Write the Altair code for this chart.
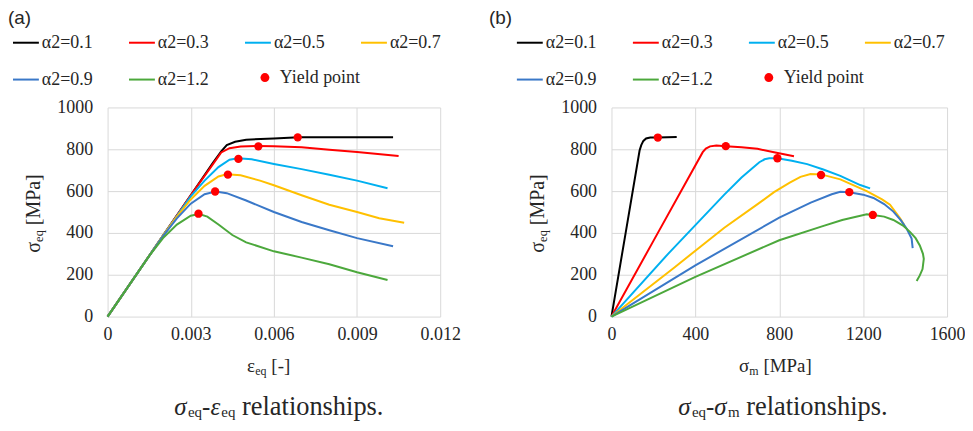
import altair as alt
import pandas as pd

SERIES = ["α2=0.1", "α2=0.3", "α2=0.5", "α2=0.7", "α2=0.9", "α2=1.2"]
COLORS = ["#000000", "#FF0000", "#00B0F0", "#FFC000", "#3A78C8", "#4CA83C"]
YIELD_LABEL = "Yield point"

# ---------------- panel (a): sigma_eq vs eps_eq ----------------
a_x_01 = [0, 0.002, 0.003, 0.0038, 0.0041, 0.0043, 0.0046, 0.005, 0.006, 0.0069, 0.008, 0.0103]
a_y_01 = [0, 387, 580, 735, 790, 820, 836, 846, 852, 858, 858, 858]
a_x_03 = [0, 0.002, 0.003, 0.0037, 0.0041, 0.0044, 0.0048, 0.0054, 0.006, 0.007, 0.008, 0.009, 0.0105]
a_y_03 = [0, 387, 580, 710, 785, 805, 813, 816, 815, 810, 798, 787, 768]
a_x_05 = [0, 0.002, 0.003, 0.0035, 0.004, 0.0044, 0.0047, 0.0052, 0.006, 0.007, 0.008, 0.009, 0.0101]
a_y_05 = [0, 387, 575, 650, 715, 750, 757, 752, 730, 705, 678, 650, 614]
a_x_07 = [0, 0.002, 0.0025, 0.003, 0.0035, 0.004, 0.0043, 0.0048, 0.0055, 0.006, 0.007, 0.008, 0.009, 0.0098, 0.0107]
a_y_07 = [0, 387, 478, 560, 625, 670, 680, 676, 650, 628, 580, 535, 500, 470, 449]
a_x_09 = [0, 0.0015, 0.002, 0.0025, 0.003, 0.0035, 0.0039, 0.0043, 0.005, 0.006, 0.007, 0.008, 0.009, 0.0103]
a_y_09 = [0, 290, 385, 470, 540, 585, 598, 590, 555, 500, 452, 413, 375, 336]
a_x_12 = [0, 0.0015, 0.002, 0.0025, 0.003, 0.0033, 0.0036, 0.004, 0.0045, 0.005, 0.006, 0.007, 0.008, 0.009, 0.0101]
a_y_12 = [0, 290, 375, 440, 482, 490, 478, 440, 390, 355, 312, 282, 250, 212, 175]
a_yield_x = [0.00686, 0.00544, 0.00472, 0.00434, 0.00388, 0.00328]
a_yield_y = [857, 814, 754, 679, 598, 492]

# ---------------- panel (b): sigma_eq vs sigma_m ----------------
b_x_01 = [0, 67, 134, 142, 152, 165, 185, 221, 311]
b_y_01 = [0, 397, 794, 820, 840, 852, 856, 856, 859]
b_x_03 = [0, 200, 435, 450, 470, 500, 545, 620, 696, 775, 870]
b_y_03 = [0, 362, 786, 803, 814, 818, 815, 810, 802, 786, 767]
b_x_05 = [0, 270, 538, 620, 670, 705, 730, 752, 791, 860, 933, 1010, 1091, 1186, 1233]
b_y_05 = [0, 300, 583, 665, 708, 738, 752, 757, 757, 745, 729, 703, 673, 629, 613]
b_x_07 = [0, 300, 538, 700, 775, 850, 901, 949, 999, 1091, 1217, 1290, 1328, 1376, 1396]
b_y_07 = [0, 235, 425, 540, 595, 640, 668, 682, 680, 656, 600, 560, 535, 470, 438]
b_x_09 = [0, 400, 800, 950, 1050, 1091, 1134, 1200, 1249, 1300, 1344, 1380, 1407, 1431, 1436]
b_y_09 = [0, 245, 473, 545, 585, 597, 595, 583, 567, 538, 502, 460, 421, 373, 327]
b_x_12 = [0, 400, 800, 1000, 1100, 1217, 1246, 1300, 1344, 1390, 1423, 1450, 1470, 1485, 1489, 1483, 1470, 1455]
b_y_12 = [0, 190, 365, 430, 462, 489, 486, 478, 462, 435, 405, 375, 340, 300, 276, 227, 197, 170]
b_yield_x = [221, 545, 791, 999, 1134, 1246]
b_yield_y = [856, 815, 757, 677, 595, 486]

Y_TICKS = [0, 200, 400, 600, 800, 1000]
A_X_TICKS = [0, 0.003, 0.006, 0.009, 0.012]
B_X_TICKS = [0, 400, 800, 1200, 1600]

SERIF = "'Liberation Serif', 'Times New Roman', Times, 'DejaVu Serif', serif"
SANS = "'Liberation Sans', Arial, sans-serif"
TXT = "#262626"
EM = {"σ": 0.55, "ε": 0.44, "e": 0.444, "q": 0.5, "m": 0.778, " ": 0.25, "[": 0.333,
      "]": 0.333, "M": 0.889, "P": 0.556, "a": 0.444, "-": 0.333}


def text_width(s, size):
    return sum(EM.get(c, 0.5) for c in s) * size


def long_df(xs_list, ys_list):
    rows = []
    for s, xs, ys in zip(SERIES, xs_list, ys_list):
        for i, (x, y) in enumerate(zip(xs, ys)):
            rows.append({"series": s, "x": x, "y": y, "i": i})
    return pd.DataFrame(rows)


def yield_df(xs, ys):
    return pd.DataFrame({"x": xs, "y": ys, "kind": [YIELD_LABEL] * len(xs)})


def txt(s, x, y, size, angle=0, italic=False, font=SERIF):
    kw = dict(text=s, font=font, fontSize=size, align="left", baseline="alphabetic", color=TXT)
    if angle:
        kw["angle"] = angle
    if italic:
        kw["fontStyle"] = "italic"
    return alt.Chart(alt.Data(values=[{}])).mark_text(**kw).encode(
        x=alt.value(x), y=alt.value(y))


def run(pieces, x0, y0, vertical=False, sub_shift=3):
    """pieces: (text, size, is_sub, italic)"""
    out = []
    pos = x0 if not vertical else y0
    for s, size, sub, ital in pieces:
        shift = sub_shift if sub else 0
        lead = len(s) - len(s.lstrip(" "))
        adv = lead * EM[" "] * size
        s = s.lstrip(" ")
        if vertical:
            pos -= adv
            out.append(txt(s, x0 + shift, pos, size, angle=270, italic=ital))
            pos -= text_width(s, size)
        else:
            pos += adv
            out.append(txt(s, pos, y0 + shift, size, italic=ital))
            pos += text_width(s, size)
    return out


def panel(lines, pts, xdom, xticks, xlabel_expr, width, letter, letter_x,
          xtitle, xtitle_x, caption):
    H = 210
    xscale = alt.Scale(domain=xdom, nice=False, zero=False)
    yscale = alt.Scale(domain=[0, 1000], nice=False)
    xaxis = alt.Axis(values=xticks, labelExpr=xlabel_expr, title=None, grid=True,
                     domain=False, ticks=False, labelPadding=9, labelFlush=False,
                     labelFont=SERIF, labelFontSize=18, labelColor=TXT)
    yaxis = alt.Axis(values=Y_TICKS, format="d", title=None, grid=True,
                     domain=False, ticks=False, labelPadding=15,
                     labelFont=SERIF, labelFontSize=18, labelColor=TXT)
    line_layer = alt.Chart(lines).mark_line(strokeWidth=2).encode(
        x=alt.X("x:Q", scale=xscale, axis=xaxis),
        y=alt.Y("y:Q", scale=yscale, axis=yaxis),
        color=alt.Color("series:N", scale=alt.Scale(domain=SERIES, range=COLORS),
                        sort=SERIES,
                        legend=alt.Legend(orient="none", legendX=-96, legendY=-79,
                                          columns=4, direction="horizontal",
                                          title=None, symbolType="stroke",
                                          symbolSize=676, symbolStrokeWidth=2,
                                          labelFont=SERIF, labelFontSize=18,
                                          labelColor=TXT, labelOffset=2,
                                          columnPadding=31.5, rowPadding=14)),
        order="i:Q",
    )
    pt_layer = alt.Chart(pts).mark_circle(size=70, opacity=1).encode(
        x="x:Q", y="y:Q",
        fill=alt.Fill("kind:N", scale=alt.Scale(domain=[YIELD_LABEL], range=["#FF0000"]),
                      legend=alt.Legend(orient="none", legendX=149, legendY=-39,
                                        title=None, symbolType="circle", symbolSize=80,
                                        symbolStrokeWidth=0, labelFont=SERIF,
                                        labelFontSize=18, labelColor=TXT,
                                        labelOffset=6)),
    )
    texts = [txt(letter, letter_x, -84, 19, font=SANS)]
    # y title: sigma_eq [MPa]
    texts += run([("σ", 20, False, False), ("eq", 12.5, True, False), (" [MPa]", 20, False, False)],
                 -68, 146, vertical=True)
    texts += run(xtitle, xtitle_x, 266)
    texts += run(caption, 67, 309, sub_shift=2)
    return alt.layer(line_layer, pt_layer, *texts).properties(width=width, height=H)


left = panel(long_df([a_x_01, a_x_03, a_x_05, a_x_07, a_x_09, a_x_12],
                     [a_y_01, a_y_03, a_y_05, a_y_07, a_y_09, a_y_12]),
             yield_df(a_yield_x, a_yield_y),
             [0, 0.012], A_X_TICKS,
             "datum.value == 0 ? '0' : format(datum.value, '.3f')",
             334, "(a)", -100,
             [("ε", 19, False, False), ("eq", 12, True, False), (" [-]", 19, False, False)], 140,
             [("σ", 25, False, True), ("eq", 15, True, False), ("-", 25, False, False),
              ("ε", 25, False, True), ("eq", 15, True, False), (" relationships.", 26.5, False, False)])

right = panel(long_df([b_x_01, b_x_03, b_x_05, b_x_07, b_x_09, b_x_12],
                      [b_y_01, b_y_03, b_y_05, b_y_07, b_y_09, b_y_12]),
              yield_df(b_yield_x, b_yield_y),
              [0, 1600], B_X_TICKS,
              "format(datum.value, 'd')",
              337, "(b)", -123,
              [("σ", 19, False, False), ("m", 12, True, False), (" [MPa]", 19, False, False)], 128,
              [("σ", 25, False, True), ("eq", 15, True, False), ("-", 25, False, False),
               ("σ", 25, False, True), ("m", 15, True, False), (" relationships.", 26.5, False, False)])

chart = alt.hconcat(left, right, spacing=28).resolve_scale(
    x="independent", y="independent", color="independent", fill="independent"
).properties(padding=0).configure(font=SERIF).configure_view(stroke=None).configure_axis(
    labelFont=SERIF, labelFontSize=18, labelColor=TXT, gridColor="#D9D9D9", gridWidth=1
).configure_legend(labelFont=SERIF)

chart.save("out.html", embed_options={"renderer": "svg", "actions": False})
